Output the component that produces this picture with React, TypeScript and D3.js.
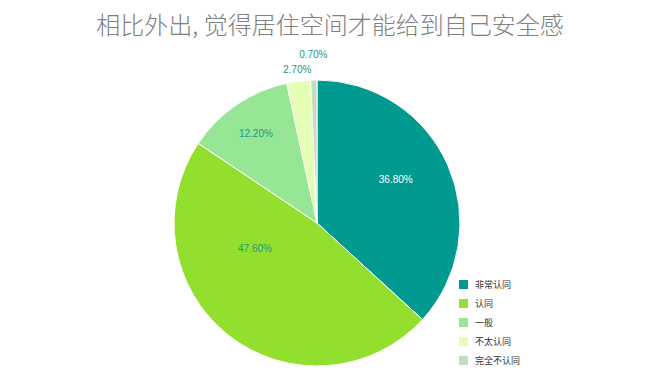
import React from 'react';
import * as d3 from 'd3';

const categories = ['非常认同', '认同', '一般', '不太认同', '完全不认同'];
const values = [36.8, 47.6, 12.2, 2.7, 0.7];
const colors = ['#009a90', '#92df2e', '#96e695', '#e4ffb4', '#c4dcbf'];
const title = '相比外出, 觉得居住空间才能给到自己安全感';

const width = 671;
const height = 375;
const cx = 317;
const cy = 223;
const radius = 143;

// where along each slice the label sits: [fraction of the angle span, fraction of the radius]
const labelSpots: [number, number][] = [
  [0.46, 0.63],
  [0.67, 0.47],
  [0.5, 0.76],
  [0.5, 1.08],
  [0.5, 1.18],
];

export default function App() {
  const pie = d3.pie<number>().sort(null).value((d) => d);
  const arcs = pie(values);
  const arc = d3.arc<d3.PieArcDatum<number>>().innerRadius(0).outerRadius(radius);
  const fmt = (v: number) => v.toFixed(2) + '%';

  const labelPos = (a: d3.PieArcDatum<number>, i: number) => {
    const [f, rf] = labelSpots[i];
    const ang = a.startAngle + (a.endAngle - a.startAngle) * f;
    return [Math.sin(ang) * radius * rf, -Math.cos(ang) * radius * rf];
  };

  return (
    <svg width={width} height={height} style={{ display: 'block', position: 'absolute', left: 0, top: 0 }}>
      <rect width={width} height={height} fill="#fff" />
      <text
        x={330}
        y={34}
        textAnchor="middle"
        fontSize={24}
        fill="#808080"
        fontFamily="'Noto Sans CJK SC', sans-serif"
        fontWeight={300}
      >
        {title}
      </text>
      <g transform={`translate(${cx},${cy})`}>
        {arcs.map((a, i) => (
          <path key={i} d={arc(a) || ''} fill={colors[i]} stroke="#fff" strokeWidth={1} />
        ))}
        {arcs.map((a, i) => {
          const [x, y] = labelPos(a, i);
          return (
            <text
              key={'l' + i}
              x={x}
              y={y}
              dy="0.35em"
              textAnchor="middle"
              fontSize={10}
              fontFamily="'Liberation Sans', Arial, sans-serif"
              fill={i === 0 ? '#ffffff' : '#1a9a8c'}
            >
              {fmt(values[i])}
            </text>
          );
        })}
      </g>
      <g fontFamily="'Noto Sans CJK SC', sans-serif" fontSize={9} fill="#333">
        {categories.map((c, i) => (
          <g key={c} transform={`translate(459,${280 + i * 19})`}>
            <rect width={9} height={9} fill={colors[i]} />
            <text x={16} y={4.5} dy="0.35em">
              {c}
            </text>
          </g>
        ))}
      </g>
    </svg>
  );
}
